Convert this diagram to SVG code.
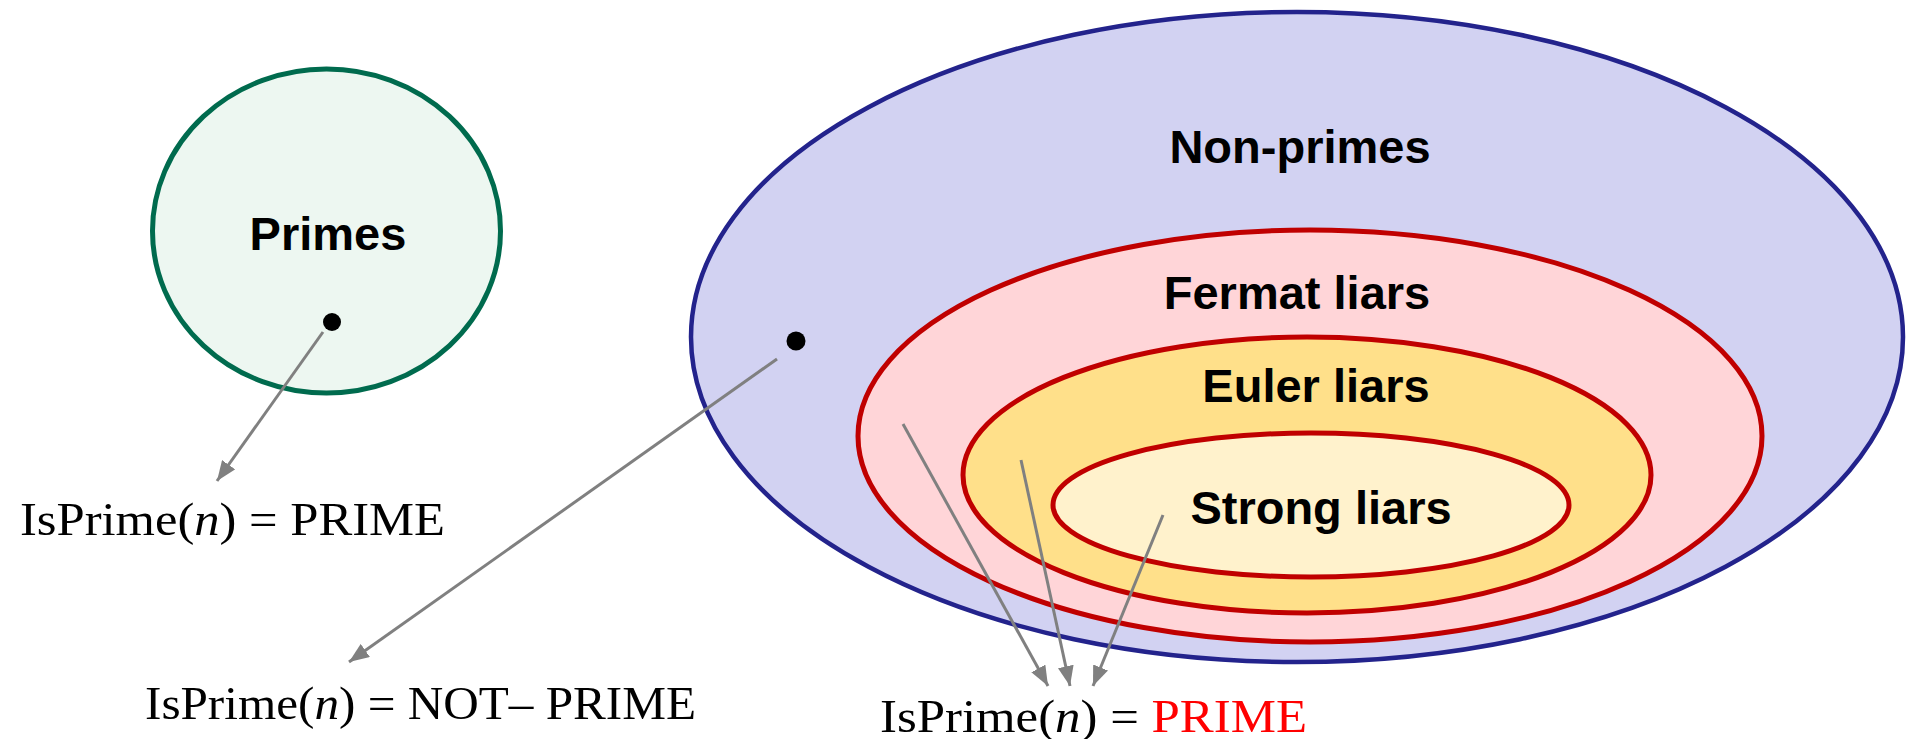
<svg xmlns="http://www.w3.org/2000/svg" width="1908" height="739" viewBox="0 0 1908 739">
<style>
.lbl{font-family:"Liberation Sans",Arial,sans-serif;font-weight:bold;font-size:47px;fill:#000;text-anchor:middle}
.math{font-family:"Liberation Serif","Times New Roman",serif;font-size:47px;fill:#000}
.it{font-style:italic}
.red{fill:#FF0000}
.conn{stroke:#808080;stroke-width:3;fill:none;marker-end:url(#ah)}
.liar{stroke:#C00000;stroke-width:5}
</style>
<defs>
<marker id="ah" markerUnits="userSpaceOnUse" markerWidth="22" markerHeight="16" refX="20" refY="8" orient="auto" viewBox="0 0 22 16">
<path d="M0,0 L20,8 L0,16 z" fill="#808080"/>
</marker>
</defs>
<rect width="1908" height="739" fill="#fff"/>
<g id="primes">
<ellipse cx="326.5" cy="231" rx="174" ry="162" fill="#EDF7F1" stroke="#006B4E" stroke-width="5"/>
<text class="lbl" x="328" y="250">Primes</text>
<circle cx="332" cy="322" r="9" fill="#000"/>
</g>
<g id="nonprimes">
<ellipse cx="1297" cy="337" rx="606" ry="325" fill="#D2D2F2" stroke="#23238C" stroke-width="4.5"/>
<text class="lbl" x="1300" y="163">Non-primes</text>
<circle cx="796" cy="341" r="9.5" fill="#000"/>
</g>
<g id="fermat">
<ellipse class="liar" cx="1310" cy="436" rx="452" ry="206" fill="#FFD5D8"/>
<text class="lbl" x="1297" y="309">Fermat liars</text>
</g>
<g id="euler">
<ellipse class="liar" cx="1307" cy="475" rx="344" ry="138" fill="#FFE08A"/>
<text class="lbl" x="1316" y="402">Euler liars</text>
</g>
<g id="strong">
<ellipse class="liar" cx="1311" cy="505" rx="258" ry="72" fill="#FFF2CC"/>
<text class="lbl" x="1321" y="524">Strong liars</text>
</g>
<g id="out-prime">
<text class="math" x="20" y="535" textLength="425" lengthAdjust="spacingAndGlyphs">IsPrime(<tspan class="it">n</tspan>)  =  PRIME</text>
</g>
<g id="out-notprime">
<text class="math" x="145" y="719" textLength="551" lengthAdjust="spacingAndGlyphs">IsPrime(<tspan class="it">n</tspan>)  =  NOT– PRIME</text>
</g>
<g id="out-liar">
<text class="math" x="880" y="732" textLength="427" lengthAdjust="spacingAndGlyphs">IsPrime(<tspan class="it">n</tspan>)  =  <tspan class="red">PRIME</tspan></text>
</g>
<g id="connectors">
<line class="conn" x1="323" y1="332" x2="217" y2="481"/>
<line class="conn" x1="777" y1="359" x2="349" y2="662"/>
<line class="conn" x1="903" y1="424" x2="1048" y2="686"/>
<line class="conn" x1="1021" y1="460" x2="1070" y2="686"/>
<line class="conn" x1="1163" y1="515" x2="1093" y2="686"/>
</g>
</svg>
